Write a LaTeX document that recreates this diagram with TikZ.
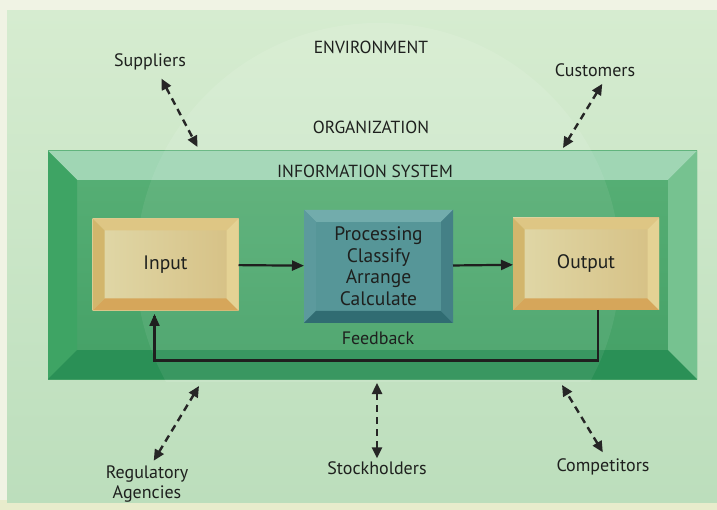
\documentclass[tikz,border=0pt]{standalone}
\usepackage{fontspec}
\setmainfont{PT Sans}
\usetikzlibrary{arrows.meta,calc}
\definecolor{paper}{RGB}{240,243,228}
\definecolor{paperlow}{RGB}{232,236,204}
\definecolor{envT}{RGB}{214,236,208}
\definecolor{envB}{RGB}{188,222,188}
\definecolor{txt}{RGB}{30,32,30}
\definecolor{sysTop}{RGB}{160,214,180}
\definecolor{sysLeft}{RGB}{62,164,100}
\definecolor{sysBot}{RGB}{42,144,86}
\definecolor{sysRight}{RGB}{118,194,144}
\definecolor{sysFaceT}{RGB}{88,176,118}
\definecolor{sysFaceB}{RGB}{68,160,102}
\definecolor{ioTop}{RGB}{222,198,132}
\definecolor{ioLeft}{RGB}{210,182,108}
\definecolor{ioBot}{RGB}{214,166,90}
\definecolor{ioRight}{RGB}{228,210,148}
\definecolor{ioFaceL}{RGB}{224,216,168}
\definecolor{ioFaceR}{RGB}{214,192,132}
\definecolor{prTop}{RGB}{114,172,172}
\definecolor{prLeft}{RGB}{92,154,157}
\definecolor{prBot}{RGB}{48,108,114}
\definecolor{prRight}{RGB}{68,128,134}
\definecolor{prFace}{RGB}{86,150,152}
\newcommand\bevbox[6]{%
  \fill[#3] (#1.north west) -- (#1.north east) -- ($(#1.north east)+(-#2,#2)$) -- ($(#1.north west)+(#2,#2)$) -- cycle;
  \fill[#4] (#1.north west) -- ($(#1.north west)+(#2,#2)$) -- ($(#1.south west)+(#2,-#2)$) -- (#1.south west) -- cycle;
  \fill[#5] (#1.south west) -- ($(#1.south west)+(#2,-#2)$) -- ($(#1.south east)+(-#2,-#2)$) -- (#1.south east) -- cycle;
  \fill[#6] (#1.north east) -- ($(#1.north east)+(-#2,#2)$) -- ($(#1.south east)+(-#2,-#2)$) -- (#1.south east) -- cycle;
}
\begin{document}
\begin{tikzpicture}[x=1pt,y=-1pt,
  lbl/.style={text=txt,font=\fontsize{18}{20.5}\selectfont,align=center,inner sep=2pt},
  caps/.style={text=txt,font=\fontsize{17.5}{20}\selectfont,inner sep=2pt},
  boxlbl/.style={text=txt,font=\fontsize{19.5}{21.7}\selectfont,align=center},
  iobox/.style={minimum width=146,minimum height=92,inner sep=0,outer sep=0,
    left color=ioFaceL,right color=ioFaceR},
  prbox/.style={minimum width=149,minimum height=113,inner sep=0,outer sep=0,fill=prFace},
  flow/.style={draw=black!88,line width=2.2pt,-{Triangle[length=12pt,width=10pt]}},
  dasharr/.style={draw=black!85,line width=2.4pt,dash pattern=on 7pt off 5pt,
    {Triangle[length=11pt,width=10pt]}-{Triangle[length=11pt,width=10pt]}}]
\useasboundingbox (0,0) rectangle (717,510);
% page and environment background
\fill[paper] (0,0) rectangle (717,510);
\fill[paperlow] (0,500) rectangle (717,510);
\shade[top color=envT,bottom color=envB] (7,11) rectangle (717,502);
% organization circle (visible above the box)
\begin{scope}
\clip (7,11) rectangle (717,381);
\fill[white,fill opacity=0.10] (378,265) circle[radius=242];
\end{scope}
% information system box
\node[minimum width=649,minimum height=228,inner sep=0,outer sep=0,
  top color=sysFaceT,bottom color=sysFaceB] (sys) at (372.5,265) {};
\bevbox{sys}{29}{sysTop}{sysLeft}{sysBot}{sysRight}
% organization circle over the box, very faint
\begin{scope}
\clip (sys.north west) rectangle (sys.south east);
\fill[white,fill opacity=0.07] (378,265) circle[radius=242];
\end{scope}
% process boxes
\node[iobox] (in) at (165.5,264.5) {};
\bevbox{in}{12}{ioTop}{ioLeft}{ioBot}{ioRight}
\node[boxlbl] at (in.center) {Input};
\node[prbox] (pr) at (378.5,266.3) {};
\bevbox{pr}{12}{prTop}{prLeft}{prBot}{prRight}
\node[boxlbl] at (pr.center) {Processing\\Classify\\Arrange\\Calculate};
\node[iobox] (out) at (586,264) {};
\bevbox{out}{11.5}{ioTop}{ioLeft}{ioBot}{ioRight}
\node[boxlbl] at (out.center) {Output};
% flow arrows
\draw[flow] (in) -- (pr);
\draw[flow] (pr) -- (out);
\coordinate (fbA) at ([xshift=12pt]out.south);
\coordinate (fbB) at ([xshift=-11pt]in.south);
\coordinate (fbL) at (0,360.5);
\draw[flow,-] (fbA) -- (fbA |- fbL) -| ($(fbB)+(0,6)$);
\draw[flow] ($(fbB)+(0,8)$) -- ($(fbB)+(0,3.5)$);
% texts
\node[caps] (env) at (371,47) {ENVIRONMENT};
\node[caps] (org) at (371,127) {ORGANIZATION};
\node[caps] (ist) at (365,171) {INFORMATION SYSTEM};
\node[lbl] (fbk) at (378,338) {Feedback};
\node[lbl] (sup) at (150,62) {Suppliers};
\node[lbl] (cus) at (595,70) {Customers};
\node[lbl] (reg) at (147,484) {Regulatory\\Agencies};
\node[lbl] (sto) at (377,468) {Stockholders};
\node[lbl] (com) at (603,467) {Competitors};
% environment links
\coordinate (supE) at (197.5,147);
\coordinate (cusE) at (563,148);
\coordinate (regE) at (199,386);
\coordinate (stoE) at (377,383);
\coordinate (comE) at (562,385);
\draw[dasharr,shorten <=7pt] (sup.-52) -- (supE);
\draw[dasharr,shorten <=6pt] (cus.-40) -- (cusE);
\draw[dasharr,shorten <=3pt] (reg.76) -- (regE);
\draw[dasharr,shorten <=1pt] (sto.north) -- (stoE);
\draw[dasharr,shorten <=5pt] (com.77) -- (comE);
\end{tikzpicture}
\end{document}
